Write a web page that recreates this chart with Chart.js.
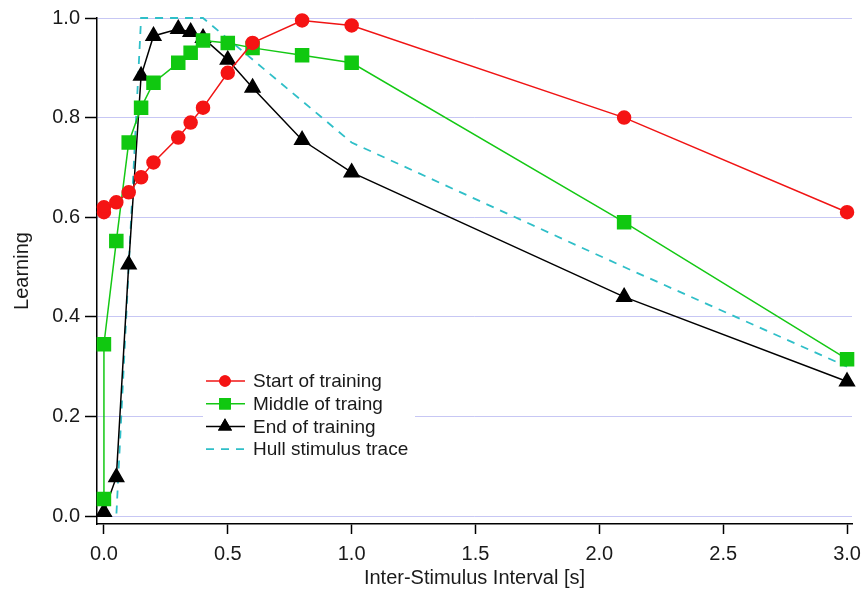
<!DOCTYPE html>
<html>
<head>
<meta charset="utf-8">
<title>Learning vs inter-stimulus interval</title>
<script src="https://cdn.jsdelivr.net/npm/chart.js@4.4.1/dist/chart.umd.min.js"></script>
<style>
  body { margin: 0; background: #fff; }
  #wrap { width: 863px; height: 591px; }
</style>
</head>
<body>
<div id="wrap"><canvas id="learnChart" width="863" height="591"></canvas></div>
<script>
// values
const startX = [0, 0, 0.05, 0.1, 0.15, 0.2, 0.3, 0.35, 0.4, 0.5, 0.6, 0.8, 1.0, 2.1, 3.0];
const startY = [0.61, 0.62, 0.63, 0.65, 0.68, 0.71, 0.76, 0.79, 0.82, 0.89, 0.95, 0.995, 0.985, 0.80, 0.61];

const middleX = [0, 0, 0.05, 0.1, 0.15, 0.2, 0.3, 0.35, 0.4, 0.5, 0.6, 0.8, 1.0, 2.1, 3.0];
const middleY = [0.034, 0.345, 0.552, 0.75, 0.82, 0.87, 0.91, 0.93, 0.955, 0.95, 0.94, 0.925, 0.91, 0.59, 0.315];

const endX = [0, 0.05, 0.1, 0.15, 0.2, 0.3, 0.35, 0.4, 0.5, 0.6, 0.8, 1.0, 2.1, 3.0];
const endY = [0.008, 0.078, 0.505, 0.884, 0.964, 0.978, 0.972, 0.96, 0.916, 0.86, 0.755, 0.69, 0.44, 0.27];

const hullX = [0, 0.05, 0.1, 0.15, 0.4, 1.0, 2.1, 3.0];
const hullY = [0, 0, 0.5, 1.0, 1.0, 0.75, 0.5, 0.3];

const xTicks = [0, 0.5, 1.0, 1.5, 2.0, 2.5, 3.0];
const yTicks = [0, 0.2, 0.4, 0.6, 0.8, 1.0];

const seriesNames = ['Start of training', 'Middle of traing', 'End of training', 'Hull stimulus trace'];

function toPoints(xs, ys) {
  return xs.map((x, i) => ({ x: x, y: ys[i] }));
}

const FONT = 'Arial, "Liberation Sans", sans-serif';

// legend box sits inside the plot, over the grid
const legendInside = {
  id: 'legendInside',
  afterDraw(chart) {
    const ctx = chart.ctx;
    const left = 203, top = 367, rowH = 22.7;
    ctx.save();
    ctx.fillStyle = '#fff';
    ctx.fillRect(left, top, 212, 95);
    chart.data.datasets.forEach((ds, i) => {
      const y = top + 14 + i * rowH;
      ctx.strokeStyle = ds.borderColor;
      ctx.lineWidth = ds.borderWidth;
      ctx.setLineDash(ds.borderDash || []);
      ctx.beginPath();
      ctx.moveTo(left + 3, y);
      ctx.lineTo(left + 42, y);
      ctx.stroke();
      ctx.setLineDash([]);
      if (ds.pointRadius > 0) {
        Chart.helpers.drawPoint(ctx, {
          pointStyle: ds.pointStyle,
          radius: ds.pointRadius * 0.78,
          borderWidth: 1,
          rotation: 0
        }, left + 22, y);
        ctx.fillStyle = ds.pointBackgroundColor;
        ctx.strokeStyle = ds.pointBorderColor;
        ctx.fill();
        ctx.stroke();
      }
      ctx.fillStyle = '#1a1a1a';
      ctx.font = '19px ' + FONT;
      ctx.textBaseline = 'middle';
      ctx.textAlign = 'left';
      ctx.fillText(ds.label, left + 50, y + 1);
    });
    ctx.restore();
  }
};

const config = {
  type: 'scatter',
  data: {
    datasets: [
      {
        label: seriesNames[0],
        data: toPoints(startX, startY),
        showLine: true,
        borderColor: '#f01414',
        borderWidth: 1.5,
        pointStyle: 'circle',
        pointRadius: 6.5,
        pointBackgroundColor: '#f51414',
        pointBorderColor: '#f51414',
        clip: false
      },
      {
        label: seriesNames[1],
        data: toPoints(middleX, middleY),
        showLine: true,
        borderColor: '#14c814',
        borderWidth: 1.5,
        pointStyle: 'rect',
        pointRadius: 9.2,
        pointBackgroundColor: '#10c810',
        pointBorderColor: '#10c810',
        clip: false
      },
      {
        label: seriesNames[2],
        data: toPoints(endX, endY),
        showLine: true,
        borderColor: '#000',
        borderWidth: 1.5,
        pointStyle: 'triangle',
        pointRadius: 8.5,
        pointBackgroundColor: '#000',
        pointBorderColor: '#000',
        clip: false
      },
      {
        label: seriesNames[3],
        data: toPoints(hullX, hullY),
        showLine: true,
        borderColor: '#2fbfc8',
        borderWidth: 1.8,
        borderDash: [8, 7],
        pointRadius: 0,
        clip: false
      }
    ]
  },
  options: {
    responsive: false,
    animation: false,
    layout: { padding: { left: 0, top: 18, right: 11, bottom: 0 } },
    plugins: {
      legend: { display: false },
      tooltip: { enabled: false }
    },
    scales: {
      x: {
        type: 'linear',
        min: -0.028,
        max: 3.02,
        afterBuildTicks: axis => { axis.ticks = xTicks.map(v => ({ value: v })); },
        afterFit: axis => {
          axis.height = 67;
          // let the "3.0" label hang past the plot edge
          axis.paddingLeft = 0;
          axis.paddingRight = 0;
        },
        ticks: {
          callback: v => v.toFixed(1),
          font: { family: FONT, size: 20 },
          color: '#1a1a1a',
          padding: 8,
          maxRotation: 0
        },
        grid: {
          drawOnChartArea: false,
          tickLength: 10,
          tickColor: '#000',
          tickWidth: 1.5
        },
        border: { color: '#000', width: 1.5 },
        title: {
          display: true,
          text: 'Inter-Stimulus Interval [s]',
          font: { family: FONT, size: 20 },
          color: '#1a1a1a',
          padding: { top: 0, bottom: 1 }
        }
      },
      y: {
        type: 'linear',
        min: -0.016,
        max: 1.0,
        afterBuildTicks: axis => { axis.ticks = yTicks.map(v => ({ value: v })); },
        afterFit: axis => { axis.width = 97; },
        ticks: {
          callback: v => v.toFixed(1),
          font: { family: FONT, size: 20 },
          color: '#1a1a1a',
          padding: 5
        },
        grid: {
          color: 'rgba(175,175,240,0.7)',
          lineWidth: 1,
          borderDash: [1, 1],
          tickLength: 12,
          tickColor: '#000',
          tickWidth: 1.5,
          tickBorderDash: []
        },
        border: { color: '#000', width: 1.5 },
        title: {
          display: true,
          text: 'Learning',
          font: { family: FONT, size: 20 },
          color: '#1a1a1a',
          padding: { top: 10, bottom: 0 }
        }
      }
    }
  },
  plugins: [legendInside]
};

const chart = new Chart(document.getElementById('learnChart'), config);
</script>
</body>
</html>
